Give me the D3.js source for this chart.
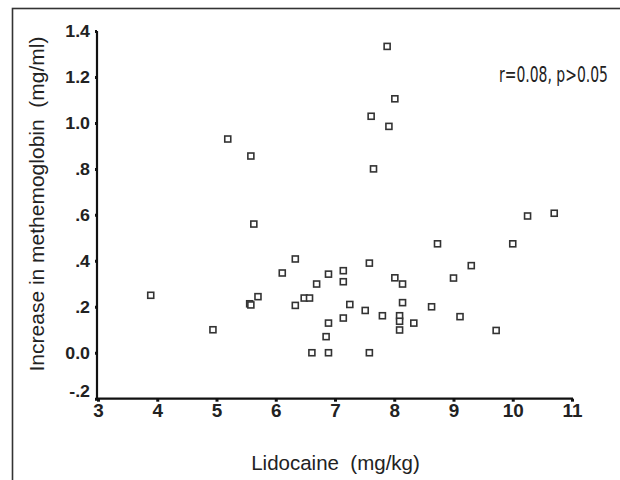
<!DOCTYPE html>
<html><head><meta charset="utf-8">
<script src="https://cdn.jsdelivr.net/npm/d3@7"></script>
<style>body{margin:0;background:#fff}svg{display:block}</style>
</head><body>
<script>
const lidocaine = [3.89,4.94,5.19,5.58,5.63,5.56,5.58,5.70,6.11,6.33,6.33,6.48,6.57,6.69,6.61,6.85,6.89,6.89,6.89,7.14,7.14,7.14,7.25,7.51,7.58,7.58,7.61,7.65,7.80,7.88,7.91,8.01,8.01,8.14,8.14,8.09,8.09,8.09,8.33,8.63,8.73,9.00,9.11,9.30,9.72,10.00,10.25,10.70];
const methemoglobin = [0.25,0.10,0.93,0.856,0.56,0.213,0.208,0.244,0.347,0.408,0.206,0.238,0.238,0.299,0.0,0.07,0.129,0.0,0.342,0.357,0.309,0.151,0.21,0.184,0.39,0.0,1.029,0.80,0.161,1.333,0.985,1.105,0.326,0.299,0.218,0.161,0.137,0.099,0.129,0.20,0.474,0.325,0.157,0.379,0.097,0.474,0.595,0.607];
const xTicks = [3,4,5,6,7,8,9,10,11];
const yTicks = [-0.2,0,0.2,0.4,0.6,0.8,1.0,1.2,1.4];
const yTickLabels = ["-.2","0.0",".2",".4",".6",".8","1.0","1.2","1.4"];
const xTitle = "Lidocaine  (mg/kg)";
const yTitle = "Increase in methemoglobin  (mg/ml)";
const note = "r=0.08, p>0.05";

const W = 620, H = 480;
const svg = d3.select("body").append("svg").attr("width", W).attr("height", H);

// frame
svg.append("rect").attr("x",12.5).attr("y",8.5).attr("width",W).attr("height",H)
  .attr("fill","none").attr("stroke","#333").attr("stroke-width",1.6);

const x = d3.scaleLinear().domain([3,11]).range([98,572]);
const y = d3.scaleLinear().domain([-0.2,1.4]).range([398.7,31]);

const font = "Liberation Sans, Arial, sans-serif";
const SX = 1.08; // horizontal stretch of tick labels

// y axis
const yAxis = svg.append("g").attr("transform","translate(97,0)")
  .call(d3.axisLeft(y).tickValues(yTicks).tickFormat((d,i)=>yTickLabels[i]).tickSize(2).tickPadding(1));
yAxis.select(".domain").attr("stroke","#111").attr("stroke-width",2.2).attr("d","M0,"+y(1.4)+"V"+(y(-0.2)+1));
yAxis.selectAll(".tick line").attr("stroke","#111").attr("stroke-width",3);
yAxis.selectAll(".tick text").attr("font-family",font).attr("font-size",16.5).attr("font-weight","bold")
  .attr("fill","#222").attr("x",-7/SX).attr("transform","scale("+SX+",1)")
  .attr("dy", (d)=> d===-0.2 ? "-0.13em" : "0.35em");

// x axis
const xAxis = svg.append("g").attr("transform","translate(0,"+y(-0.2)+")")
  .call(d3.axisBottom(x).tickValues(xTicks).tickFormat(d3.format("d")).tickSize(3).tickPadding(3));
xAxis.select(".domain").attr("stroke","#111").attr("stroke-width",2.2).attr("d","M97,0H"+(x(11)+1));
xAxis.selectAll(".tick line").attr("stroke","#111").attr("stroke-width",3);
xAxis.selectAll(".tick text").attr("font-family",font).attr("font-size",17.5).attr("font-weight","bold")
  .attr("fill","#222").attr("transform","scale("+SX+",1)");

// points
const pts = lidocaine.map((v,i)=>({x:v,y:methemoglobin[i]}));
svg.append("g").selectAll("rect").data(pts).join("rect")
  .attr("x",d=>x(d.x)-3).attr("y",d=>y(d.y)-3).attr("width",6).attr("height",6)
  .attr("fill","#fff").attr("stroke","#333").attr("stroke-width",1.6);

// titles
svg.append("text").attr("x",335.5).attr("y",469.5).attr("text-anchor","middle")
  .attr("font-family",font).attr("font-size",20.5).attr("fill","#222").attr("xml:space","preserve").text(xTitle);
svg.append("text").attr("transform","translate(44,204) rotate(-90)").attr("text-anchor","middle")
  .attr("font-family",font).attr("font-size",21).attr("fill","#222").attr("xml:space","preserve").text(yTitle);

// annotation, condensed to fit
const ann = svg.append("text").attr("font-family","DejaVu Sans Condensed, Liberation Sans Narrow, sans-serif")
  .attr("font-size",21).attr("fill","#222").text(note);
const nat = ann.node().getComputedTextLength();
const s = 109 / nat;
ann.attr("transform","translate(499,82) scale("+s+",1)");
</script>
</body></html>
